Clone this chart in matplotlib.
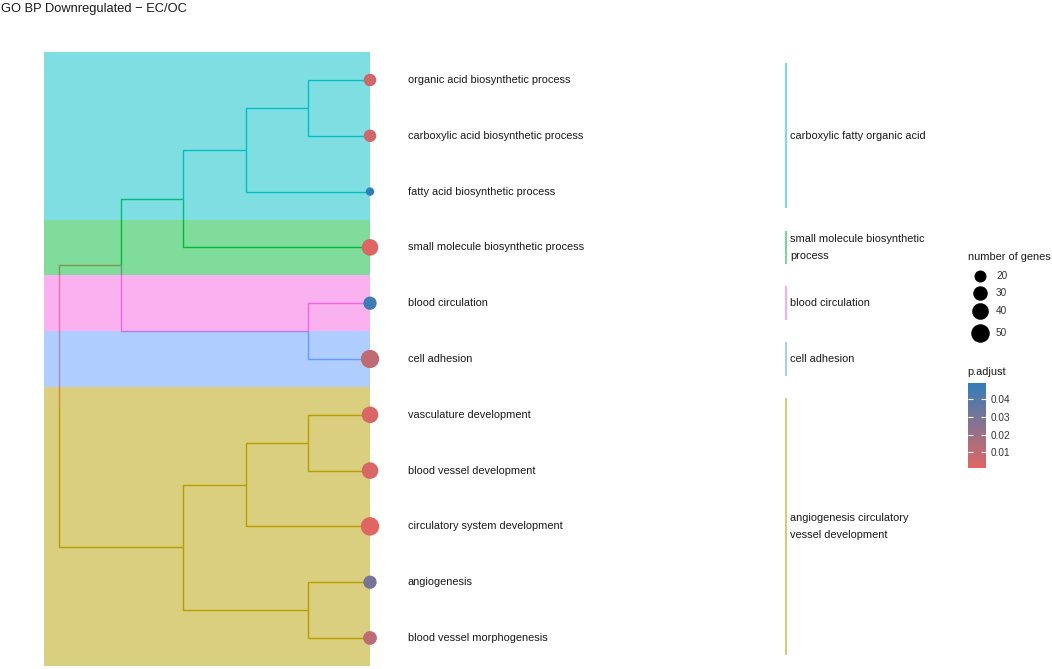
import matplotlib
matplotlib.use("Agg")
import matplotlib.pyplot as plt
import numpy as np
from matplotlib.colors import LinearSegmentedColormap, Normalize
from matplotlib.cm import ScalarMappable

plt.rcParams['font.family'] = ['Liberation Sans', 'DejaVu Sans']

# ---------------- data ----------------
terms = ["organic acid biosynthetic process",
         "carboxylic acid biosynthetic process",
         "fatty acid biosynthetic process",
         "small molecule biosynthetic process",
         "blood circulation",
         "cell adhesion",
         "vasculature development",
         "blood vessel development",
         "circulatory system development",
         "angiogenesis",
         "blood vessel morphogenesis"]
gene_counts = [22, 22, 9, 40, 25, 49, 40, 40, 50, 25, 27]
p_adjust = [0.006, 0.006, 0.049, 0.002, 0.046, 0.010, 0.003, 0.003, 0.0012, 0.030, 0.011]
leaf_cluster = ["cyan", "cyan", "cyan", "green", "pink", "blue",
                "olive", "olive", "olive", "olive", "olive"]

cluster_names = ["cyan", "green", "pink", "blue", "olive"]
cluster_labels = ["carboxylic fatty organic acid",
                  "small molecule biosynthetic\nprocess",
                  "blood circulation",
                  "cell adhesion",
                  "angiogenesis circulatory\nvessel development"]

# internal nodes: (name, child_a, child_b, height, group)
merges = [("N1", "L0", "L1", 1, "cyan"),
          ("N2", "N1", "L2", 2, "cyan"),
          ("N3", "N2", "L3", 3, "green"),
          ("N5", "L4", "L5", 1, "pink"),
          ("N4", "N3", "N5", 4, "root"),
          ("N6", "L6", "L7", 1, "olive"),
          ("N7", "N6", "L8", 2, "olive"),
          ("N8", "L9", "L10", 1, "olive"),
          ("N9", "N7", "N8", 3, "olive"),
          ("R", "N4", "N9", 5, "root")]

size_legend_values = [20, 30, 40, 50]
cbar_ticks = [0.01, 0.02, 0.03, 0.04]

palette = {"root": "#F8766D", "olive": "#B79F00", "green": "#00BA38",
           "cyan": "#00BFC4", "blue": "#619CFF", "pink": "#F564E3"}

# ---------------- figure ----------------
W, H = 1052, 669
fig = plt.figure(figsize=(W / 100, H / 100), dpi=100)
ax = fig.add_axes([0, 0, 1, 1])
ux, uy = 62.2, 55.8            # pixels per unit
x0px, y0px = 370, 80
ax.set_xlim(-x0px / ux, (W - x0px) / ux)
ax.set_ylim((H - y0px) / uy, -y0px / uy)
ax.axis("off")

FS = 7.9

# node positions
pos = {}
for i in range(len(terms)):
    pos["L%d" % i] = (0.0, float(i))
groups = {"L%d" % i: leaf_cluster[i] for i in range(len(terms))}
for name, a, b, h, g in merges:
    pos[name] = (-float(h), (pos[a][1] + pos[b][1]) / 2)
    groups[name] = g

# edges (child -> parent)
for name, a, b, h, g in merges:
    px, py = pos[name]
    for c in (a, b):
        cx, cy = pos[c]
        col = palette[groups[c]]
        ax.plot([px, px, cx], [py, cy, cy], color=col, lw=1.0,
                solid_capstyle="butt", solid_joinstyle="miter", zorder=1)

# background bands
band_left = -5.24
for cl in cluster_names:
    idx = [i for i, c in enumerate(leaf_cluster) if c == cl]
    lo, hi = min(idx) - 0.5, max(idx) + 0.5
    ax.fill_between([band_left, 0], [lo, lo], [hi, hi], color=palette[cl],
                    alpha=0.5, lw=0, zorder=2)

# dots
cmap = LinearSegmentedColormap.from_list("pa", ["#e06663", "#327eba"])
norm = Normalize(vmin=min(p_adjust), vmax=max(p_adjust))


def size_of(n):
    return 0.5184 * (12 + 6.6 * n)


ax.scatter([0] * len(terms), range(len(terms)),
           s=[size_of(n) for n in gene_counts],
           c=[cmap(norm(p)) for p in p_adjust], lw=0, zorder=3)

# leaf labels
for i, t in enumerate(terms):
    ax.text(38 / ux, i, t, fontsize=FS, va="center", ha="left", color="#1a1a1a")

# cluster lines & labels
lx = (786 - x0px) / ux
for cl, lab in zip(cluster_names, cluster_labels):
    idx = [i for i, c in enumerate(leaf_cluster) if c == cl]
    lo, hi = min(idx) - 0.3, max(idx) + 0.3
    ax.plot([lx, lx], [lo, hi], color=palette[cl], alpha=0.55, lw=1.4,
            solid_capstyle="butt")
    ax.text(lx + 4 / ux, (min(idx) + max(idx)) / 2, lab, fontsize=FS,
            va="center", ha="left", color="#1a1a1a", linespacing=1.8)

# title
fig.text(1 / W, 1 - 3 / H, "GO BP Downregulated \u2212 EC/OC", fontsize=9.3,
         ha="left", va="top", color="#1a1a1a")

# size legend
fig.text(968 / W, 1 - 257 / H, "number of genes", fontsize=FS, ha="left",
         va="center", color="#1a1a1a")
leg_y_px = [276, 293, 311, 333]
for v, ypx in zip(size_legend_values, leg_y_px):
    yy = (ypx - y0px) / uy
    ax.scatter([(980 - x0px) / ux], [yy], s=size_of(v), c="black", lw=0)
    ax.text((996 - x0px) / ux, yy, str(v), fontsize=7.2, va="center",
            ha="left", color="#333333")

# colorbar
fig.text(967 / W, 1 - 372 / H, "p.adjust", fontsize=FS, ha="left",
         va="center", color="#1a1a1a")
cax = fig.add_axes([968 / W, 1 - 468 / H, 18 / W, 85 / H])
cb = fig.colorbar(ScalarMappable(norm=norm, cmap=cmap), cax=cax, ticks=cbar_ticks)
cb.outline.set_visible(False)
cax.tick_params(direction="in", color="white", length=3.5, width=0.8,
                left=True, right=True, labelleft=False, labelright=True,
                labelsize=7.2, labelcolor="#333333", pad=3)
cax.set_yticklabels([("%.2f" % t) for t in cbar_ticks])

fig.savefig("out.png", dpi=100)
